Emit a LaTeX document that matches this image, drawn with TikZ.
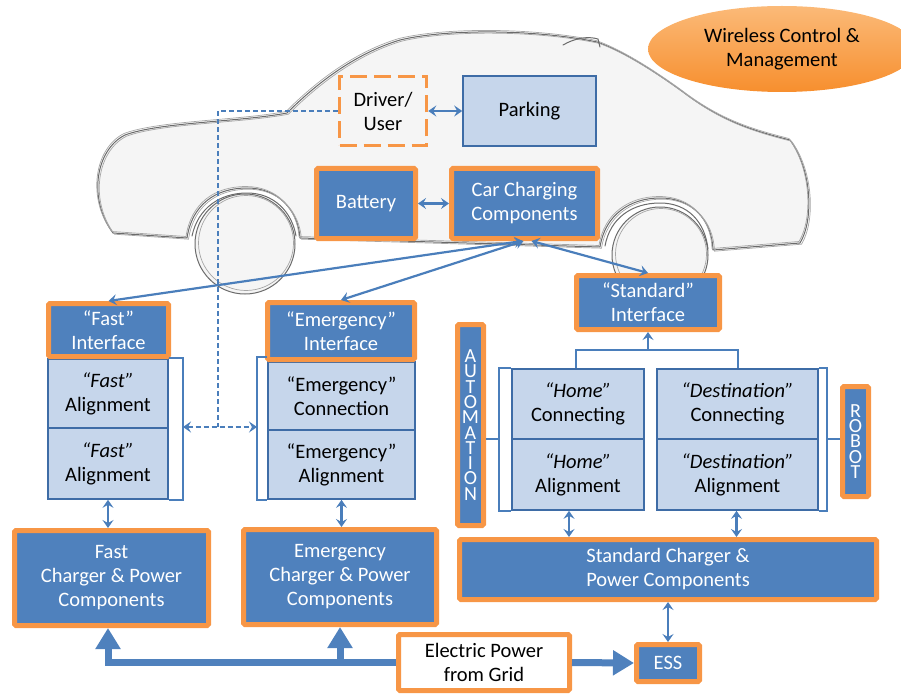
\documentclass[tikz,border=0pt]{standalone}
\usepackage{fontspec}
\setmainfont{Carlito}
\usetikzlibrary{arrows.meta,shapes.geometric,calc}

\definecolor{boxblue}{HTML}{4F81BD}
\definecolor{boxorange}{HTML}{F79646}
\definecolor{paleblue}{HTML}{C6D6EB}
\definecolor{edgeblue}{HTML}{3E6CA6}
\definecolor{linkblue}{HTML}{4A7EBB}
\definecolor{ovaltop}{HTML}{FBBA78}
\definecolor{ovalbot}{HTML}{F78F2E}

\begin{document}
\begin{tikzpicture}[x=1pt,y=-1pt,
  txt/.style={font=\fontsize{20.5pt}{24pt}\selectfont, align=center, inner sep=0pt},
  hot/.style={txt, rectangle, fill=boxblue, draw=boxorange, line width=5pt,
    rounded corners=1.5pt, text=white},
  pale/.style={txt, rectangle, fill=paleblue, draw=edgeblue, line width=1.6pt, text=black},
  plain/.style={txt, rectangle, fill=white, draw=boxorange, line width=5pt,
    rounded corners=1.5pt, text=black},
  user/.style={txt, rectangle, draw=boxorange, line width=3.5pt,
    dash pattern=on 17pt off 7pt, text=black},
  vert/.style={hot, font=\fontsize{20pt}{15.3pt}\selectfont},
  link/.style={draw=linkblue, line width=2.2pt, {Stealth[length=8pt,width=11pt,inset=3pt]}-{Stealth[length=8pt,width=11pt,inset=3pt]}},
  uplink/.style={draw=linkblue, line width=2.2pt, -{Stealth[length=8pt,width=11pt,inset=3pt]}},
  dline/.style={draw=linkblue, line width=2.2pt, dash pattern=on 5pt off 3pt},
  bracket/.style={draw=linkblue, line width=2pt},
  power/.style={draw=boxblue, line width=7pt, -{Triangle[length=21pt,width=24pt]}},
  pencil/.style={draw=black!58, line width=1pt, line join=round, line cap=round},
  pencil2/.style={draw=black!35, line width=0.7pt, line join=round, line cap=round},
]
\useasboundingbox (0,0) rectangle (901,695);
\clip (0,0) rectangle (901,695);

% ---------- pencil sketch of the car ----------
\def\carbody{(113,233) -- (187,238)
  .. controls (192,205) and (215,188) .. (247,188)
  .. controls (278,188) and (298,210) .. (300,238)
  -- (600,247)
  .. controls (605,215) and (630,198) .. (660,198)
  .. controls (692,198) and (712,220) .. (713,250)
  -- (800,243)
  .. controls (814,220) and (812,170) .. (790,140)
  .. controls (750,130) and (720,120) .. (683,92)
  .. controls (650,68) and (620,50) .. (597,42)
  .. controls (540,30) and (450,28) .. (400,40)
  .. controls (350,55) and (310,90) .. (287,113)
  .. controls (240,122) and (160,122) .. (125,135)
  .. controls (95,150) and (88,200) .. (113,233) -- cycle}
\fill[black!4] \carbody;
\fill[black!4] (245,244) circle (50);
\fill[black!4] (660,255) circle (48);
\draw[pencil] \carbody;
\begin{scope}[shift={(1.5,1.2)}]
  \draw[pencil2] \carbody;
\end{scope}
\begin{scope}[shift={(-1,-1.5)}]
  \draw[pencil2] \carbody;
\end{scope}
\draw[pencil] (245,244) circle (50);
\draw[pencil2] (246,243) circle (47.5);
\draw[pencil] (660,255) circle (48);
\draw[pencil2] (661,254) circle (45.5);
\draw[pencil] (192,236) .. controls (198,208) and (220,193) .. (247,193)
  .. controls (274,193) and (292,212) .. (296,236);
\draw[pencil] (605,246) .. controls (610,218) and (632,203) .. (660,203)
  .. controls (688,203) and (705,222) .. (708,249);
\draw[pencil] (563,45) .. controls (575,38) and (588,36) .. (598,39) -- (600,47);

% ---------- wireless control ----------
\node[txt, ellipse, minimum width=268pt, minimum height=86pt,
  top color=ovaltop, bottom color=ovalbot, text=black] (wcm) at (782,49)
  {Wireless Control \&\\Management};

% ---------- vehicle side ----------
\node[user, minimum width=87pt, minimum height=69pt] (driver) at (383,111) {Driver/\\User};
\node[pale, minimum width=133pt, minimum height=70pt] (park) at (529.5,111) {Parking};
\node[hot, minimum width=99pt, minimum height=70pt] (bat) at (366,203.5) {Battery};
\node[hot, minimum width=146pt, minimum height=70pt] (car) at (524.5,203.5) {Car Charging\\Components};

% ---------- fast column ----------
\node[pale, minimum width=120pt, minimum height=69pt] (fa1) at (108,393.5) {\textit{“Fast”}\\Alignment};
\node[pale, minimum width=120pt, minimum height=71pt] (fa2) at (108,463.5) {\textit{“Fast”}\\Alignment};
\node[hot, minimum width=120pt, minimum height=53pt] (fastif) at (108.5,330) {“Fast”\\Interface};
\node[hot, minimum width=194pt, minimum height=95pt] (fastch) at (111.5,578) {Fast\\Charger \& Power\\Components};

% ---------- emergency column ----------
\node[pale, minimum width=147pt, minimum height=68pt] (ea1) at (341.5,396) {“Emergency”\\Connection};
\node[pale, minimum width=147pt, minimum height=69pt] (ea2) at (341.5,464.5) {“Emergency”\\Alignment};
\node[hot, minimum width=147pt, minimum height=57pt] (emif) at (341,331) {“Emergency”\\Interface};
\node[hot, minimum width=193pt, minimum height=95pt] (emch) at (340,577) {Emergency\\Charger \& Power\\Components};

% ---------- standard column ----------
\node[hot, minimum width=143pt, minimum height=54pt] (stdif) at (648,302.5) {“Standard”\\Interface};
\node[pale, minimum width=132pt, minimum height=70pt] (ha1) at (578,404) {\textit{“Home”}\\Connecting};
\node[pale, minimum width=132pt, minimum height=71pt] (ha2) at (578,474.5) {\textit{“Home”}\\Alignment};
\node[pale, minimum width=161pt, minimum height=70pt] (da1) at (737.5,404) {\textit{“Destination”}\\Connecting};
\node[pale, minimum width=161pt, minimum height=71pt] (da2) at (737.5,474.5) {\textit{“Destination”}\\Alignment};
\node[vert, minimum width=26pt, minimum height=201pt] (auto) at (470.5,425)
  {A\\U\\T\\O\\M\\A\\T\\I\\O\\N};
\node[vert, minimum width=26pt, minimum height=110pt] (robot) at (855.5,441.5)
  {R\\O\\B\\O\\T};
\node[hot, minimum width=417pt, minimum height=60pt] (stdch) at (668,569.5) {Standard Charger \&\\Power Components};

% ---------- supply ----------
\node[plain, minimum width=171pt, minimum height=56pt] (grid) at (484,662.5) {Electric Power\\from Grid};
\node[hot, minimum width=63pt, minimum height=37pt] (ess) at (668,663) {ESS};

% ---------- connectors ----------
\draw[link] (driver) -- (park);
\draw[link] (bat) -- (car);
\draw[link] ([xshift=-2pt]car.south) -- (fastif.north);
\draw[link] ([xshift=-1pt]car.south) -- (emif.north);
\draw[link] ([xshift=7pt]car.south) -- (stdif.north);

% brackets that group the alignment stacks
\coordinate (fbm) at (183,427);
\coordinate (ebm) at (257,427);
\coordinate (dj) at (218,427);
\draw[bracket] (fa1.north east) -| (fbm) |- (fa2.south east);
\draw[bracket] (ea1.north west) ++(0,-4) -| (ebm) |- (ea2.south west);
\draw[dline] (driver.west) -| (dj);
\draw[dline, {Stealth[length=8pt,width=11pt,inset=3pt]}-{Stealth[length=8pt,width=11pt,inset=3pt]}] (fbm) -- (ebm);

\draw[link] (fa2.south) -- (fa2.south |- fastch.north);
\draw[link] (ea2.south) -- (ea2.south |- emch.north);

% standard tree
\coordinate (sj) at (648,350);
\draw[uplink] (sj) -- (stdif.south);
\draw[bracket] ([xshift=-2pt]ha1.north) |- (sj) -| (da1.north);
\coordinate (ab) at (499,439);
\coordinate (rb) at (827,439);
\draw[bracket] (ha1.north west) -| (ab) |- (ha2.south west);
\draw[bracket] (auto.east |- ab) -- (ab);
\draw[bracket] (da1.north east) -| (rb) |- (da2.south east);
\draw[bracket] (robot.west |- rb) -- (rb);
\draw[link] ([xshift=-9pt]ha2.south) -- ([xshift=-9pt]ha2.south |- stdch.north);
\draw[link] ([xshift=-1pt]da2.south) -- ([xshift=-1pt]da2.south |- stdch.north);
\draw[link] (stdch.south -| ess.north) -- (ess.north);

% power feed
\draw[power] (grid.west) -| ([xshift=-3.5pt]fastch.south);
\draw[power] (emch.south |- grid.west) -- (emch.south);
\draw[power] (grid.east) -- (ess.west);
\end{tikzpicture}
\end{document}
